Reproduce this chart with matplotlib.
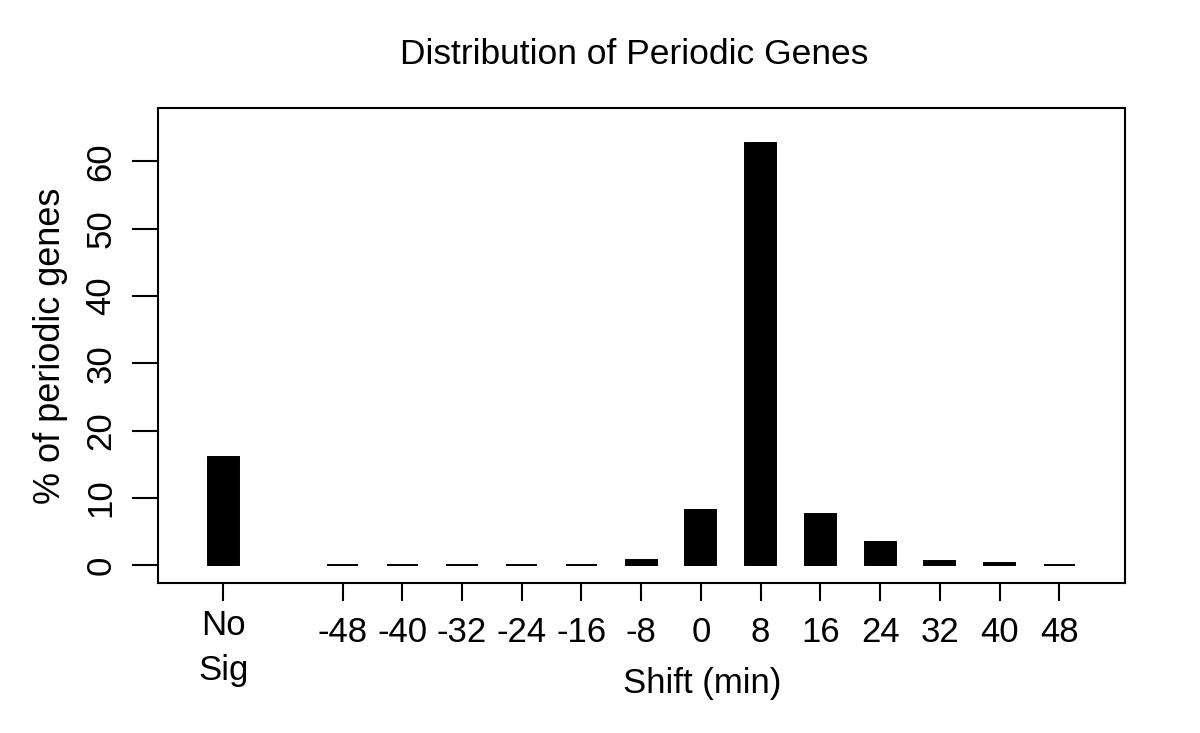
import matplotlib
matplotlib.use("Agg")
import matplotlib.pyplot as plt
import matplotlib.transforms as mtransforms

plt.rcParams['font.family'] = ['Liberation Sans', 'DejaVu Sans']

# values (% of periodic genes)
nosig_label = "No\nSig"
nosig_value = 16.1
shifts = [-48, -40, -32, -24, -16, -8, 0, 8, 16, 24, 32, 40, 48]
percent = [0.0, 0.0, 0.0, 0.0, 0.0, 0.8, 8.2, 62.7, 7.7, 3.5, 0.6, 0.4, 0.0]
yticks = [0, 10, 20, 30, 40, 50, 60]

fig = plt.figure(figsize=(12, 7.33), dpi=100)
ax = fig.add_axes([158/1200, 150/733, (1125-158)/1200, (583-108)/733])

# No Sig sits two slots left of the first shift
xpos = list(range(len(shifts)))
nosig_x = -2
ax.bar([nosig_x] + xpos, [nosig_value] + percent, width=0.52,
       color='black', edgecolor='black', linewidth=1.4)

ax.set_xlim(-3.09, 13.10)
ax.set_ylim(-2.6, 67.9)

ax.set_xticks([nosig_x] + xpos)
ax.set_xticklabels([""] + [str(s) for s in shifts], fontsize=25)
ax.set_yticks(yticks)
ax.set_yticklabels([str(v) for v in yticks], fontsize=25, rotation=90, va='center')
ax.tick_params(axis='x', length=13, width=1.5, pad=11)
ax.tick_params(axis='y', length=19, width=1.5, pad=10)
for sp in ax.spines.values():
    sp.set_linewidth(1.5)

# two-line label for the No Sig bar, sits a little higher than the others
trans = mtransforms.blended_transform_factory(ax.transData, fig.transFigure)
ax.text(nosig_x, 1 - 648/733, nosig_label, transform=trans, fontsize=25,
        ha='center', va='center', linespacing=1.45)

ax.set_ylabel("% of periodic genes", fontsize=26, labelpad=12)
fig.text(702/1200, 1 - 684/733, "Shift (min)", fontsize=25, ha='center', va='center')
fig.text(634/1200, 1 - 54/733, "Distribution of Periodic Genes", fontsize=25.5,
         ha='center', va='center')

fig.savefig("out.png", dpi=100)
